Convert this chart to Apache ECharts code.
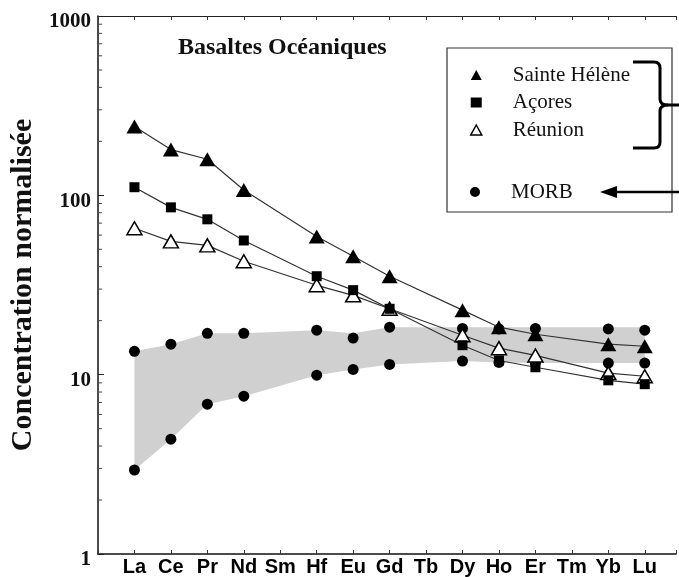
<!DOCTYPE html>
<html>
<head>
<meta charset="utf-8">
<script src="https://cdn.jsdelivr.net/npm/echarts@6/dist/echarts.min.js"></script>
<style>html,body{margin:0;padding:0;background:#fff;}#c{width:679px;height:577px;}</style>
</head>
<body>
<div id="c"></div>
<script>
const categories = ['La','Ce','Pr','Nd','Sm','Hf','Eu','Gd','Tb','Dy','Ho','Er','Tm','Yb','Lu'];
const sainteHelene = [242, 180, 159, 107, null, 59, 45.7, 35.4, null, 22.9, 18.4, 16.8, null, 14.8, 14.4];
const acores       = [111, 85.7, 73.5, 56, null, 35.4, 29.6, 23.3, null, 14.6, 12.0, 11.0, null, 9.3, 8.85];
const reunion      = [65.5, 55.4, 52.6, 42.9, null, 31.5, 27.7, 23.3, null, 16.6, 14.05, 12.8, null, 10.2, 9.8];
const morbUpper    = [13.5, 14.8, 17.0, 17.0, null, 17.7, 16.0, 18.4, null, 18.1, 18.0, 18.1, null, 18.0, 17.7];
const morbLower    = [2.94, 4.37, 6.85, 7.59, null, 9.94, 10.7, 11.4, null, 11.9, 11.7, 11.6, null, 11.6, 11.6];
const bandUpper    = [13.5, 14.8, 17.0, 17.0, null, 17.7, 17.0, 18.4, null, 18.4, 18.4, 18.4, null, 18.4, 18.4];
const bandLower    = [2.94, 4.37, 6.85, 7.59, null, 9.94, 10.7, 11.4, null, 11.9, 11.7, 11.6, null, 11.6, 11.6];
const yTickLabels  = [1, 10, 100, 1000];
const minorTicks   = [2,3,4,5,6,7,8,9,20,30,40,50,60,70,80,90,200,300,400,500,600,700,800,900];

const toPairs = arr => arr.map((v, i) => [i + 1, v]);
const SERIF = '"Liberation Serif","Times New Roman",serif';
const SANS = '"Liberation Sans",Arial,sans-serif';

const chart = echarts.init(document.getElementById('c'), null, {renderer: 'canvas'});

const lineStyle = {color: '#333', width: 1.2};
const braceStyle = {fill: null, stroke: '#000', lineWidth: 3};

chart.setOption({
  animation: false,
  backgroundColor: '#fff',
  title: {
    text: 'Basaltes Océaniques',
    left: 178, top: 36, padding: 0,
    textStyle: {fontFamily: SERIF, fontWeight: 'bold', fontSize: 24, color: '#111'}
  },
  grid: {left: 98, right: 0, top: 16, bottom: 23},
  legend: [
    {
      orient: 'vertical', left: 470, top: 63, padding: 0,
      itemWidth: 11, itemHeight: 10, itemGap: 3.5,
      selectedMode: false,
      textStyle: {fontFamily: SERIF, fontSize: 21, color: '#111', lineHeight: 24, padding: [0, 0, 0, 26]},
      data: [
        {name: 'Sainte Hélène', icon: 'triangle', itemStyle: {color: '#000', borderWidth: 0}},
        {name: 'Açores', icon: 'rect', itemStyle: {color: '#000', borderWidth: 0}},
        {name: 'Réunion', icon: 'triangle', itemStyle: {color: '#fff', borderColor: '#000', borderWidth: 1.5}}
      ]
    },
    {
      orient: 'vertical', left: 470, top: 180, padding: 0,
      itemWidth: 10, itemHeight: 10,
      selectedMode: false,
      textStyle: {fontFamily: SERIF, fontSize: 21, color: '#111', lineHeight: 24, padding: [0, 0, 0, 26]},
      data: [{name: 'MORB', icon: 'circle', itemStyle: {color: '#000', opacity: 1}}]
    }
  ],
  xAxis: [
    {
      type: 'value', min: 0, max: 15.857, interval: 1, position: 'bottom',
      splitLine: {show: false},
      axisLine: {show: true, lineStyle: {color: '#111', width: 1.5}},
      axisTick: {show: true, inside: true, length: 4, lineStyle: {color: '#333'}},
      axisLabel: {
        margin: 3, fontFamily: SANS, fontWeight: 'bold', fontSize: 20, color: '#000',
        formatter: v => (Number.isInteger(v) && v >= 1 && v <= categories.length) ? categories[v - 1] : ''
      }
    },
    {
      type: 'value', min: 0, max: 15.857, interval: 1, position: 'top',
      splitLine: {show: false},
      axisLine: {show: true, lineStyle: {color: '#222', width: 1.2}},
      axisTick: {show: true, inside: true, length: 4, lineStyle: {color: '#333'}},
      axisLabel: {show: false}
    }
  ],
  yAxis: {
    type: 'log', logBase: 10, min: 1, max: 1000,
    name: 'Concentration normalisée',
    nameLocation: 'middle', nameGap: 60, nameRotate: 90,
    nameTextStyle: {fontFamily: SERIF, fontWeight: 'bold', fontSize: 30, color: '#111'},
    splitLine: {show: false},
    axisLine: {show: true, lineStyle: {color: '#111', width: 1.5}},
    axisTick: {show: true, inside: true, length: 6, lineStyle: {color: '#222'}},
    minorTick: {show: false},
    axisLabel: {
      margin: 7,
      formatter: v => yTickLabels.indexOf(Math.round(v)) >= 0 ? '{a|' + Math.round(v) + '}' : '',
      rich: {a: {fontFamily: SERIF, fontWeight: 'bold', fontSize: 21, color: '#111', padding: [12, 0, 0, 0]}}
    }
  },
  series: [
    {
      type: 'custom', name: 'band', coordinateSystem: 'cartesian2d', silent: true, z: 1,
      data: [[1, bandUpper[0]]],
      renderItem: function (params, api) {
        const top = [], bot = [];
        for (let i = 0; i < categories.length; i++) {
          if (bandUpper[i] != null) top.push(api.coord([i + 1, bandUpper[i]]));
          if (bandLower[i] != null) bot.push(api.coord([i + 1, bandLower[i]]));
        }
        const pts = top.concat(bot.reverse());
        return {type: 'polygon', shape: {points: pts}, style: {fill: '#d0d0d0'}};
      }
    },
    {
      type: 'custom', name: 'minor', coordinateSystem: 'cartesian2d', silent: true, z: 5,
      data: minorTicks.map(v => [0, v]),
      renderItem: function (params, api) {
        const p = api.coord([api.value(0), api.value(1)]);
        return {type: 'line', shape: {x1: p[0], y1: p[1], x2: p[0] + 4, y2: p[1]}, style: {stroke: '#444', lineWidth: 1}};
      }
    },
    {
      type: 'scatter', name: 'MORB', data: toPairs(morbUpper).filter(d => d[1] != null),
      symbol: 'circle', symbolSize: 11, itemStyle: {color: '#000', opacity: 1}, z: 3
    },
    {
      type: 'scatter', name: 'MORB', data: toPairs(morbLower).filter(d => d[1] != null),
      symbol: 'circle', symbolSize: 11, itemStyle: {color: '#000', opacity: 1}, z: 3
    },
    {
      type: 'line', name: 'Réunion', data: toPairs(reunion), connectNulls: true,
      symbol: 'triangle', symbolSize: [15, 13], showAllSymbol: true,
      lineStyle: lineStyle,
      itemStyle: {color: '#fff', borderColor: '#000', borderWidth: 1.5}, z: 4
    },
    {
      type: 'line', name: 'Açores', data: toPairs(acores), connectNulls: true,
      symbol: 'rect', symbolSize: 10, showAllSymbol: true,
      lineStyle: lineStyle,
      itemStyle: {color: '#000'}, z: 4
    },
    {
      type: 'line', name: 'Sainte Hélène', data: toPairs(sainteHelene), connectNulls: true,
      symbol: 'triangle', symbolSize: [16, 14], showAllSymbol: true,
      lineStyle: lineStyle,
      itemStyle: {color: '#000'}, z: 4
    }
  ],
  graphic: [
    {type: 'rect', shape: {x: 447, y: 48, width: 225, height: 164}, style: {fill: null, stroke: '#333', lineWidth: 1.2}, z: 10},
    {type: 'polyline', shape: {points: [[633, 62], [654, 62]]}, style: braceStyle, z: 10},
    {type: 'bezierCurve', shape: {x1: 654, y1: 62, cpx1: 660, cpy1: 62, x2: 660, y2: 68}, style: braceStyle, z: 10},
    {type: 'polyline', shape: {points: [[660, 68], [660, 99]]}, style: braceStyle, z: 10},
    {type: 'bezierCurve', shape: {x1: 660, y1: 99, cpx1: 660, cpy1: 105, x2: 668, y2: 105}, style: braceStyle, z: 10},
    {type: 'polyline', shape: {points: [[668, 105], [679, 105]]}, style: braceStyle, z: 10},
    {type: 'bezierCurve', shape: {x1: 668, y1: 105, cpx1: 660, cpy1: 105, x2: 660, y2: 111}, style: braceStyle, z: 10},
    {type: 'polyline', shape: {points: [[660, 111], [660, 142]]}, style: braceStyle, z: 10},
    {type: 'bezierCurve', shape: {x1: 660, y1: 142, cpx1: 660, cpy1: 148, x2: 654, y2: 148}, style: braceStyle, z: 10},
    {type: 'polyline', shape: {points: [[654, 148], [633, 148]]}, style: braceStyle, z: 10},
    {type: 'line', shape: {x1: 679, y1: 192, x2: 612, y2: 192}, style: {stroke: '#000', lineWidth: 2.5}, z: 10},
    {type: 'polygon', shape: {points: [[600, 192], [617, 186], [617, 198]]}, style: {fill: '#000'}, z: 10}
  ]
});
</script>
</body>
</html>
